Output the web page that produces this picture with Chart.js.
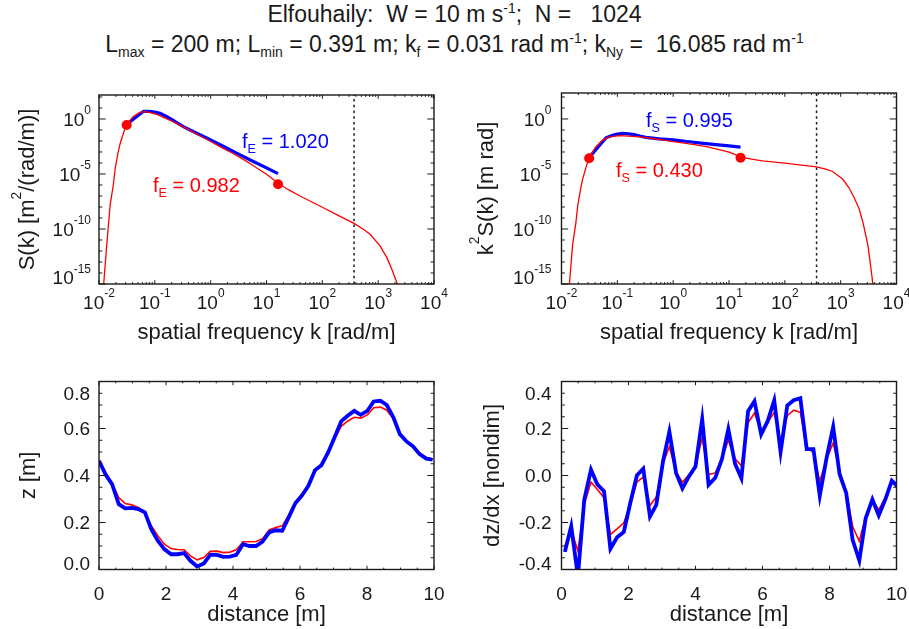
<!DOCTYPE html>
<html>
<head>
<meta charset="utf-8">
<title>Elfouhaily spectrum</title>
<script src="https://cdn.jsdelivr.net/npm/chart.js@4.4.1/dist/chart.umd.min.js"></script>
<style>
  body { margin: 0; background: #fff; }
  #wrap { position: relative; width: 909px; height: 629px; overflow: hidden; background: #fff; }
  #wrap canvas { position: absolute; left: 0; top: 0; }
  .ttl { position: absolute; left: 0; width: 909px; text-align: center; white-space: pre;
         font: 23px "Liberation Sans", Arial, Helvetica, sans-serif; line-height: 23px; color: #1a1a1a; }
  .ttl sup, .ttl sub { font-size: 14px; line-height: 0; }
  .ttl sup { vertical-align: 9px; }
  .ttl sub { vertical-align: -5px; }
</style>
</head>
<body>
<div id="wrap">
  <div class="ttl" style="top:3px">Elfouhaily:  W = 10 m s<sup>-1</sup>;  N =   1024</div>
  <div class="ttl" style="top:33px">L<sub>max</sub> = 200 m; L<sub>min</sub> = 0.391 m; k<sub>f</sub> = 0.031 rad m<sup>-1</sup>; k<sub>Ny</sub> =  16.085 rad m<sup>-1</sup></div>
  <canvas id="spec" width="909" height="629"></canvas>
  <canvas id="slopeSpec" width="909" height="629"></canvas>
  <canvas id="surf" width="909" height="629"></canvas>
  <canvas id="grad" width="909" height="629"></canvas>
</div>
<script>
// model spectrum S(k) on a log grid [rad/m, m^2/(rad/m)]
const modelK = [0.0112, 0.01213, 0.01374, 0.01585, 0.01803, 0.0195, 0.02188, 0.02399, 0.02818, 0.03133,
  0.0355, 0.0407, 0.0537, 0.0661, 0.0794, 0.108, 0.158, 0.251, 0.398, 0.631,
  1.0, 1.585, 2.547, 3.98, 5.81, 10.0, 12.6, 17.0, 25.1, 39.8,
  100, 199.5, 369, 543, 716, 1081, 1422, 1750, 2148, 2512,
  3090, 3681, 3981];
const modelS = [1e-17, 1e-15, 3.16e-12, 1.58e-8, 1e-6, 3.16e-5, 7.94e-4, 6.31e-3, 7.94e-2, 0.288,
  0.708, 1.62, 3.98, 4.57, 3.98, 2.63, 1.12, 0.38, 0.112, 0.0316,
  8.91e-3, 2.51e-3, 6.92e-4, 1.91e-4, 5.62e-5, 9.5e-6, 3.8e-6, 1.17e-6, 3.55e-7, 1e-7,
  9.55e-9, 1.58e-9, 3.24e-10, 9.33e-11, 3.31e-11, 2.95e-12, 2.63e-13, 2.29e-14, 1.45e-15, 5.89e-17,
  3.02e-19, 2.09e-22, 3.16e-24];

// spectrum resolved by the N = 1024 realisation, k_f ... k_Ny
const resolvedK = [0.0314, 0.0628, 0.0794, 0.1, 0.124, 0.158, 0.2, 0.251, 0.324, 0.562,
  1.0, 1.778, 3.162, 5.81, 10.0, 16.085];
const resolvedS = [0.331, 5.01, 4.9, 4.17, 3.24, 1.78, 0.933, 0.447, 0.204, 0.0501,
  0.0126, 2.82e-3, 6.31e-4, 1.38e-4, 3.55e-5, 1.07e-5];

// model at k_f and k_Ny
const markK = [0.0313, 16.085];
const markS = [0.28, 1.15e-6];
const kCap = 370;

const fE = { resolved: '1.020', model: '0.982' };
const fS = { resolved: '0.995', model: '0.430' };

// surface elevation along the first 10 m
const distZ = [0.00, 0.20, 0.39, 0.59, 0.78, 0.98, 1.17, 1.37, 1.56, 1.76,
  1.95, 2.15, 2.34, 2.54, 2.73, 2.93, 3.13, 3.32, 3.52, 3.71,
  3.91, 4.10, 4.30, 4.49, 4.69, 4.88, 5.08, 5.27, 5.47, 5.66,
  5.86, 6.05, 6.25, 6.45, 6.64, 6.84, 7.03, 7.23, 7.42, 7.62,
  7.81, 8.01, 8.20, 8.40, 8.59, 8.79, 8.98, 9.18, 9.38, 9.57,
  9.77, 9.96];
const zBlue = [0.462, 0.403, 0.363, 0.278, 0.260, 0.262, 0.257, 0.243, 0.172, 0.122,
  0.087, 0.065, 0.065, 0.070, 0.037, 0.013, 0.026, 0.062, 0.062, 0.054,
  0.055, 0.062, 0.108, 0.100, 0.100, 0.119, 0.158, 0.167, 0.165, 0.221,
  0.282, 0.313, 0.356, 0.423, 0.444, 0.498, 0.562, 0.630, 0.654, 0.675,
  0.658, 0.675, 0.715, 0.718, 0.700, 0.647, 0.576, 0.545, 0.523, 0.491,
  0.472, 0.467];
const zRed = [0.465, 0.413, 0.367, 0.306, 0.281, 0.275, 0.264, 0.245, 0.186, 0.143,
  0.108, 0.089, 0.085, 0.084, 0.058, 0.041, 0.051, 0.077, 0.078, 0.072,
  0.074, 0.084, 0.118, 0.118, 0.119, 0.131, 0.168, 0.179, 0.186, 0.231,
  0.288, 0.321, 0.356, 0.420, 0.447, 0.498, 0.555, 0.609, 0.631, 0.648,
  0.644, 0.658, 0.688, 0.691, 0.678, 0.640, 0.576, 0.546, 0.526, 0.495,
  0.477, 0.470];

// slope at the midpoints
const distSlope = [0.10, 0.29, 0.49, 0.68, 0.88, 1.07, 1.27, 1.46, 1.66, 1.86,
  2.05, 2.25, 2.44, 2.64, 2.83, 3.03, 3.22, 3.42, 3.61, 3.81,
  4.00, 4.20, 4.39, 4.59, 4.79, 4.98, 5.18, 5.37, 5.57, 5.76,
  5.96, 6.15, 6.35, 6.54, 6.74, 6.93, 7.13, 7.32, 7.52, 7.71,
  7.91, 8.11, 8.30, 8.50, 8.69, 8.89, 9.08, 9.28, 9.47, 9.67,
  9.86, 10.06];
const slopeBlue = [-0.325, -0.216, -0.43, -0.102, 0.025, -0.038, -0.067, -0.312, -0.263, -0.240,
  -0.119, 0.0, 0.029, -0.175, -0.125, 0.06, 0.187, 0.011, -0.055, -0.003,
  0.038, 0.24, -0.04, -0.01, 0.07, 0.198, 0.05, -0.012, 0.274, 0.316,
  0.175, 0.23, 0.32, 0.10, 0.298, 0.32, 0.329, 0.112, 0.112, -0.086,
  0.073, 0.207, 0.006, -0.075, -0.274, -0.362, -0.182, -0.102, -0.17, -0.10,
  -0.022, -0.05];
const slopeRed = [-0.301, -0.23, -0.322, -0.123, -0.028, -0.06, -0.095, -0.251, -0.227, -0.201,
  -0.128, -0.028, -0.007, -0.128, -0.091, 0.051, 0.122, 0.014, -0.028, 0.004,
  0.042, 0.16, 0.004, 0.011, 0.075, 0.15, 0.071, 0.042, 0.224, 0.266,
  0.184, 0.224, 0.269, 0.146, 0.255, 0.278, 0.269, 0.117, 0.099, -0.024,
  0.068, 0.139, 0.018, -0.067, -0.216, -0.28, -0.173, -0.105, -0.145, -0.095,
  -0.031, -0.053];

// axis ticks
const kTicks = [1e-2, 1e-1, 1e0, 1e1, 1e2, 1e3, 1e4];
const kTickExp = ['-2', '-1', '0', '1', '2', '3', '4'];
const specTicks = [1e-15, 1e-10, 1e-5, 1e0];
const specTickExp = ['-15', '-10', '-5', '0'];
const distTicks = [0, 2, 4, 6, 8, 10];
const zTicks = [0, 0.2, 0.4, 0.6, 0.8];
const zTickLabels = ['0.0', '0.2', '0.4', '0.6', '0.8'];
const slopeTicks = [-0.4, -0.2, 0, 0.2, 0.4];
const slopeTickLabels = ['-0.4', '-0.2', '0.0', '0.2', '0.4'];

const W = 909, H = 629;
const INK = '#1a1a1a';
const RED = '#ff0000', BLUE = '#0000ff';
const FONT = '"Liberation Sans", Arial, Helvetica, sans-serif';

const pts = (xs, ys) => xs.map((x, i) => ({ x, y: ys[i] }));
const slopeSpecOf = (ks, ss) => ks.map((k, i) => k * k * ss[i]);

// text made of plain / superscript (1) / subscript (-1) runs
function drawRich(ctx, parts, x, y, size, align, color) {
  const runs = parts.map(([t, k]) => {
    const s = k ? size * 0.63 : size;
    ctx.font = s + 'px ' + FONT;
    return { t, k, s, w: ctx.measureText(t).width };
  });
  const total = runs.reduce((a, r) => a + r.w, 0);
  let cx = align === 'center' ? x - total / 2 : align === 'right' ? x - total : x;
  ctx.fillStyle = color || INK;
  ctx.textAlign = 'left';
  ctx.textBaseline = 'alphabetic';
  runs.forEach(r => {
    ctx.font = r.s + 'px ' + FONT;
    const dy = r.k === 1 ? -size * 0.6 : r.k === -1 ? size * 0.26 : 0;
    ctx.fillText(r.t, cx, y + dy);
    cx += r.w;
  });
}

function logTicks(lo, hi, every) {
  const out = [];
  for (let e = lo; e < hi; e++) {
    if (every) { out.push([Math.pow(10, e), e % every === 0]); continue; }
    for (let m = 1; m <= 9; m++) out.push([m * Math.pow(10, e), m === 1]);
  }
  out.push([Math.pow(10, hi), every ? hi % every === 0 : true]);
  return out;
}
function linTicks(lo, hi, step, majorEvery) {
  const out = [];
  const n = Math.round((hi - lo) / step);
  for (let i = 0; i <= n; i++) out.push([lo + i * step, i % majorEvery === 0]);
  return out;
}

// box with inward ticks on all four sides, tick labels and axis titles
function drawFrame(chart, p) {
  const { ctx, chartArea: a } = chart;
  const sx = chart.scales.x, sy = chart.scales.y;
  const xLen = 0.02 * (a.bottom - a.top);
  const yLen = 0.02 * (a.right - a.left);
  ctx.save();
  ctx.strokeStyle = INK;
  ctx.lineWidth = 1;
  ctx.beginPath();
  p.xTicks.forEach(([v, major]) => {
    const px = sx.getPixelForValue(v);
    if (px < a.left - 0.5 || px > a.right + 0.5) return;
    const len = major ? xLen : xLen / 2;
    ctx.moveTo(px, a.bottom); ctx.lineTo(px, a.bottom - len);
    ctx.moveTo(px, a.top); ctx.lineTo(px, a.top + len);
  });
  p.yTicks.forEach(([v, major]) => {
    const py = sy.getPixelForValue(v);
    if (py < a.top - 0.5 || py > a.bottom + 0.5) return;
    const len = major ? yLen : yLen / 2;
    ctx.moveTo(a.left, py); ctx.lineTo(a.left + len, py);
    ctx.moveTo(a.right, py); ctx.lineTo(a.right - len, py);
  });
  ctx.stroke();
  ctx.lineWidth = 1.4;
  ctx.strokeRect(a.left, a.top, a.right - a.left, a.bottom - a.top);

  p.xLabels.forEach(([v, parts]) => {
    drawRich(ctx, parts, sx.getPixelForValue(v), a.bottom + p.xLabelDy, 19, 'center');
  });
  p.yLabels.forEach(([v, parts]) => {
    let py = sy.getPixelForValue(v) + 6.8;
    if (Math.abs(py - 6.8 - a.bottom) < 1) py -= 6.5;
    if (Math.abs(py - 6.8 - a.top) < 1) py += 12;
    drawRich(ctx, parts, a.left - p.yLabelGap, py, 19, 'right');
  });

  drawRich(ctx, p.xTitle, (a.left + a.right) / 2, a.bottom + p.xTitleDy, 22, 'center');
  ctx.save();
  ctx.translate(a.left - p.yTitleDx, (a.top + a.bottom) / 2);
  ctx.rotate(-Math.PI / 2);
  drawRich(ctx, p.yTitle, 0, 0, 22, 'center');
  ctx.restore();

  (p.notes || []).forEach(n => drawRich(ctx, n.parts, n.x, n.y, 20, 'left', n.color));
  ctx.restore();
}

function panel(id, box, xScale, yScale, datasets, frame) {
  return new Chart(document.getElementById(id), {
    type: 'scatter',
    data: { datasets },
    options: {
      responsive: false,
      animation: false,
      events: [],
      layout: { padding: { left: box.l, top: box.t, right: W - box.r, bottom: H - box.b } },
      scales: {
        x: Object.assign({ display: false }, xScale),
        y: Object.assign({ display: false }, yScale)
      },
      plugins: { legend: { display: false }, tooltip: { enabled: false } }
    },
    plugins: [{ id: 'idlFrame', afterDraw: chart => drawFrame(chart, frame) }]
  });
}

const line = (data, color, width, extra) => Object.assign({
  data, showLine: true, borderColor: color, borderWidth: width, pointRadius: 0,
  fill: false, tension: 0, clip: 0
}, extra || {});
const dots = data => ({ data, showLine: false, pointRadius: 5, pointBackgroundColor: RED,
  pointBorderColor: RED, pointBorderWidth: 0, clip: 0 });

const kLabels = kTicks.map((v, i) => [v, [['10', 0], [kTickExp[i], 1]]]);
const specLabels = specTicks.map((v, i) => [v, [['10', 0], [specTickExp[i], 1]]]);
const kAxis = { type: 'logarithmic', min: 1e-2, max: 1e4 };

// S(k)
const specTop = 151;
panel('spec', { l: 99, r: 434, t: 95, b: 284 }, kAxis,
  { type: 'logarithmic', min: 1e-15, max: specTop },
  [
    line([{ x: kCap, y: 1e-15 }, { x: kCap, y: specTop }], INK, 1.5, { borderDash: [2.5, 3.2] }),
    line(pts(modelK, modelS), RED, 1.3),
    dots(pts(markK, markS)),
    line(pts(resolvedK, resolvedS), BLUE, 3.2)
  ],
  {
    xTicks: logTicks(-2, 4), yTicks: logTicks(-15, 2, 5),
    xLabels: kLabels, yLabels: specLabels, xLabelDy: 24.5, yLabelGap: 8,
    xTitle: [['spatial frequency k [rad/m]', 0]], xTitleDy: 54.5,
    yTitle: [['S(k) [m', 0], ['2', 1], ['/(rad/m)]', 0]], yTitleDx: 65,
    notes: [
      { parts: [['f', 0], ['E', -1], [' = ' + fE.resolved, 0]], x: 242, y: 148, color: BLUE },
      { parts: [['f', 0], ['E', -1], [' = ' + fE.model, 0]], x: 153, y: 191.5, color: RED }
    ]
  });

// k^2 S(k)
const slopeTop = 230;
panel('slopeSpec', { l: 561.5, r: 896.5, t: 93, b: 284 }, kAxis,
  { type: 'logarithmic', min: 1e-15, max: slopeTop },
  [
    line([{ x: kCap, y: 1e-15 }, { x: kCap, y: slopeTop }], INK, 1.5, { borderDash: [2.5, 3.2] }),
    line(pts(modelK, slopeSpecOf(modelK, modelS)), RED, 1.3),
    dots(pts(markK, slopeSpecOf(markK, markS))),
    line(pts(resolvedK, slopeSpecOf(resolvedK, resolvedS)), BLUE, 3.2)
  ],
  {
    xTicks: logTicks(-2, 4), yTicks: logTicks(-15, 2, 5),
    xLabels: kLabels, yLabels: specLabels, xLabelDy: 24.5, yLabelGap: 10,
    xTitle: [['spatial frequency k [rad/m]', 0]], xTitleDy: 54.5,
    yTitle: [['k', 0], ['2', 1], ['S(k) [m rad]', 0]], yTitleDx: 69,
    notes: [
      { parts: [['f', 0], ['S', -1], [' = ' + fS.resolved, 0]], x: 646, y: 126.5, color: BLUE },
      { parts: [['f', 0], ['S', -1], [' = ' + fS.model, 0]], x: 616, y: 176.5, color: RED }
    ]
  });

const distAxis = { type: 'linear', min: 0, max: 10 };
const distLabels = distTicks.map(v => [v, [[String(v), 0]]]);

// z(x)
panel('surf', { l: 99, r: 434, t: 381.5, b: 569.5 }, distAxis,
  { type: 'linear', min: 0, max: 0.8 },
  [line(pts(distZ, zBlue), BLUE, 3.8), line(pts(distZ, zRed), RED, 1.6)],
  {
    xTicks: linTicks(0, 10, 0.5, 4), yTicks: linTicks(0, 0.8, 0.05, 4),
    xLabels: distLabels, yLabels: zTicks.map((v, i) => [v, [[zTickLabels[i], 0]]]),
    xLabelDy: 30, yLabelGap: 9,
    xTitle: [['distance [m]', 0]], xTitleDy: 51,
    yTitle: [['z [m]', 0]], yTitleDx: 64
  });

// dz/dx
panel('grad', { l: 561.5, r: 896.5, t: 381.5, b: 569.5 }, distAxis,
  { type: 'linear', min: -0.4, max: 0.4 },
  [line(pts(distSlope, slopeBlue), BLUE, 3.8), line(pts(distSlope, slopeRed), RED, 1.6)],
  {
    xTicks: linTicks(0, 10, 0.5, 4), yTicks: linTicks(-0.4, 0.4, 0.05, 4),
    xLabels: distLabels, yLabels: slopeTicks.map((v, i) => [v, [[slopeTickLabels[i], 0]]]),
    xLabelDy: 30, yLabelGap: 10,
    xTitle: [['distance [m]', 0]], xTitleDy: 51,
    yTitle: [['dz/dx [nondim]', 0]], yTitleDx: 63
  });
</script>
</body>
</html>
